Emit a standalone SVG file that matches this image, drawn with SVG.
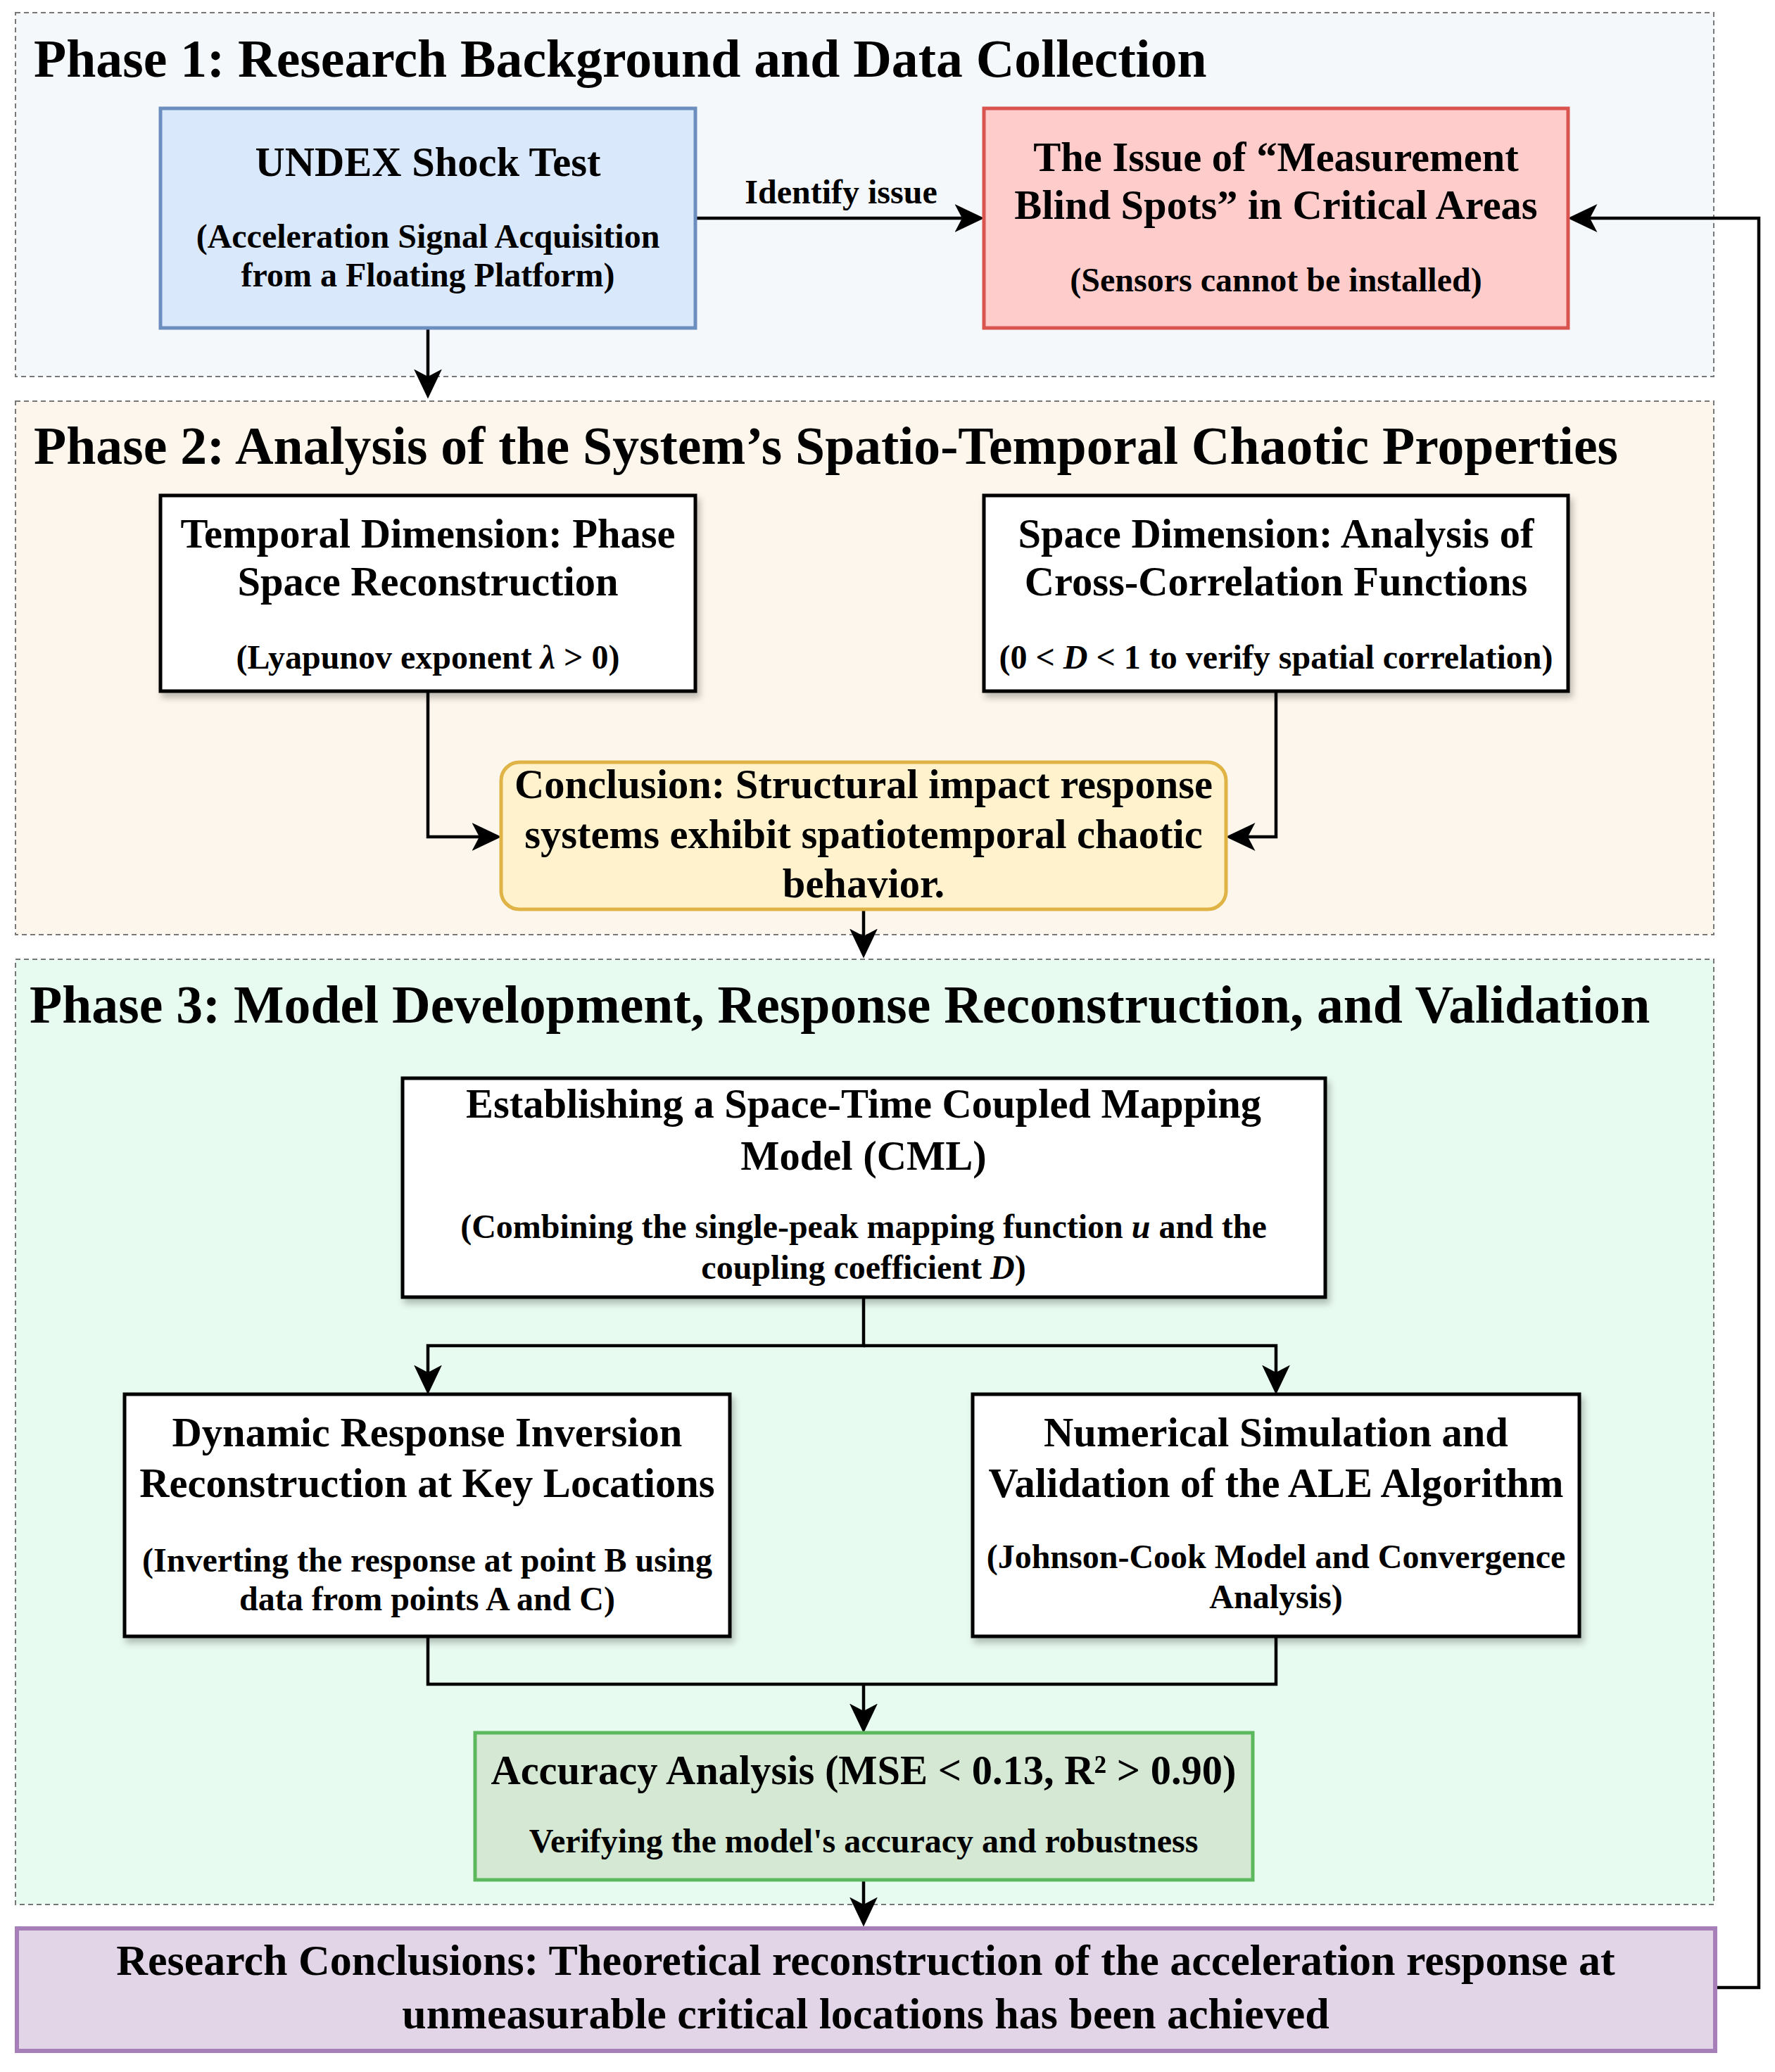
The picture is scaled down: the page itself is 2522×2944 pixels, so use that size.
<svg xmlns="http://www.w3.org/2000/svg" width="2522" height="2944" viewBox="0 0 2522 2944">
<defs>
<style>
text{font-family:"Liberation Serif","Times New Roman",serif;font-weight:bold;fill:#000;text-anchor:middle}
.title{font-size:75.7px;text-anchor:start}
.main{font-size:58.5px}
.big{font-size:62px}
.sub{font-size:48px}
.phase{stroke:#777;stroke-width:2;stroke-dasharray:7 5}
.box{fill:#fff;stroke:#000;stroke-width:5}
.conn{fill:none;stroke:#000;stroke-width:4.5}
</style>
<marker id="arr" markerUnits="userSpaceOnUse" markerWidth="42" markerHeight="42" viewBox="0 0 40 40" refX="30" refY="20" orient="auto">
<path d="M40 20 L0 1 L10 20 L0 39 Z" fill="#000"/>
</marker>
<filter id="sh" x="-5%" y="-5%" width="115%" height="125%">
<feDropShadow dx="4" dy="7" stdDeviation="5" flood-color="#000" flood-opacity="0.25"/>
</filter>
</defs>
<rect width="2522" height="2944" fill="#fff"/>

<g id="phase1">
<rect class="phase" x="22" y="18" width="2413" height="517" fill="#f5f8fb"/>
<text class="title" x="48" y="109">Phase 1: Research Background and Data Collection</text>
</g>
<g id="phase2">
<rect class="phase" x="22" y="570" width="2413" height="758" fill="#fdf6ec"/>
<text class="title" x="48" y="659">Phase 2: Analysis of the System’s Spatio-Temporal Chaotic Properties</text>
</g>
<g id="phase3">
<rect class="phase" x="22" y="1363" width="2413" height="1343" fill="#e8fbf0"/>
<text class="title" x="42" y="1453">Phase 3: Model Development, Response Reconstruction, and Validation</text>
</g>

<g id="connectors">
<path class="conn" d="M988 310 H1388" marker-end="url(#arr)"/>
<path class="conn" d="M608 466 V556" marker-end="url(#arr)"/>
<path class="conn" d="M2437 2824 H2499 V310 H2238" marker-end="url(#arr)"/>
<path class="conn" d="M608 982 V1189 H702" marker-end="url(#arr)"/>
<path class="conn" d="M1813 982 V1189 H1752" marker-end="url(#arr)"/>
<path class="conn" d="M1227 1292 V1351" marker-end="url(#arr)"/>
<path class="conn" d="M1227 1843 V1912 H608 V1971" marker-end="url(#arr)"/>
<path class="conn" d="M1227 1912 H1813 V1971" marker-end="url(#arr)"/>
<path class="conn" d="M608 2325 V2393 H1813 V2325"/>
<path class="conn" d="M1227 2393 V2452" marker-end="url(#arr)"/>
<path class="conn" d="M1227 2671 V2727" marker-end="url(#arr)"/>
<text class="sub" x="1195" y="289">Identify issue</text>
</g>

<g id="undex">
<rect x="228" y="154" width="760" height="312" fill="#dae8fc" stroke="#6c8ebf" stroke-width="5"/>
<text class="main" x="608" y="250">UNDEX Shock Test</text>
<text class="sub" x="608" y="352">(Acceleration Signal Acquisition</text>
<text class="sub" x="608" y="407">from a Floating Platform)</text>
</g>

<g id="issue">
<rect x="1398" y="154" width="830" height="312" fill="#ffcccc" stroke="#d9534f" stroke-width="5"/>
<text class="main" x="1813" y="243">The Issue of “Measurement</text>
<text class="main" x="1813" y="311">Blind Spots” in Critical Areas</text>
<text class="sub" x="1813" y="414">(Sensors cannot be installed)</text>
</g>

<g id="temporal">
<rect class="box" x="228" y="704" width="760" height="278" filter="url(#sh)"/>
<text class="main" x="608" y="778">Temporal Dimension: Phase</text>
<text class="main" x="608" y="846">Space Reconstruction</text>
<text class="sub" x="608" y="950">(Lyapunov exponent <tspan font-style="italic">λ</tspan> &gt; 0)</text>
</g>

<g id="space">
<rect class="box" x="1398" y="704" width="830" height="278" filter="url(#sh)"/>
<text class="main" x="1813" y="778">Space Dimension: Analysis of</text>
<text class="main" x="1813" y="846">Cross-Correlation Functions</text>
<text class="sub" x="1813" y="950">(0 &lt; <tspan font-style="italic">D</tspan> &lt; 1 to verify spatial correlation)</text>
</g>

<g id="conclusion">
<rect x="712" y="1083" width="1030" height="209" rx="26" fill="#fff2cc" stroke="#e0b347" stroke-width="5"/>
<text class="main" x="1227" y="1134">Conclusion: Structural impact response</text>
<text class="main" x="1227" y="1205">systems exhibit spatiotemporal chaotic</text>
<text class="main" x="1227" y="1275">behavior.</text>
</g>

<g id="cml">
<rect class="box" x="572" y="1532" width="1311" height="311" filter="url(#sh)"/>
<text class="main" x="1227" y="1588">Establishing a Space-Time Coupled Mapping</text>
<text class="main" x="1227" y="1662">Model (CML)</text>
<text class="sub" x="1227" y="1759">(Combining the single-peak mapping function <tspan font-style="italic">u</tspan> and the</text>
<text class="sub" x="1227" y="1817">coupling coefficient <tspan font-style="italic">D</tspan>)</text>
</g>

<g id="dynamic">
<rect class="box" x="177" y="1981" width="860" height="344" filter="url(#sh)"/>
<text class="main" x="607" y="2055">Dynamic Response Inversion</text>
<text class="main" x="607" y="2127">Reconstruction at Key Locations</text>
<text class="sub" x="607" y="2233">(Inverting the response at point B using</text>
<text class="sub" x="607" y="2288">data from points A and C)</text>
</g>

<g id="numerical">
<rect class="box" x="1382" y="1981" width="862" height="344" filter="url(#sh)"/>
<text class="main" x="1813" y="2055">Numerical Simulation and</text>
<text class="main" x="1813" y="2127">Validation of the ALE Algorithm</text>
<text class="sub" x="1813" y="2228">(Johnson-Cook Model and Convergence</text>
<text class="sub" x="1813" y="2285">Analysis)</text>
</g>

<g id="accuracy">
<rect x="675" y="2462" width="1105" height="209" fill="#d5e8d4" stroke="#5cb85c" stroke-width="5"/>
<text class="main" x="1227" y="2535">Accuracy Analysis (MSE &lt; 0.13, R² &gt; 0.90)</text>
<text class="sub" x="1227" y="2632">Verifying the model's accuracy and robustness</text>
</g>

<g id="research">
<rect x="24" y="2740" width="2413" height="174" fill="#e1d5e7" stroke="#a77fb8" stroke-width="6"/>
<text class="big" x="1230" y="2806">Research Conclusions: Theoretical reconstruction of the acceleration response at</text>
<text class="big" x="1230" y="2882">unmeasurable critical locations has been achieved</text>
</g>
</svg>
